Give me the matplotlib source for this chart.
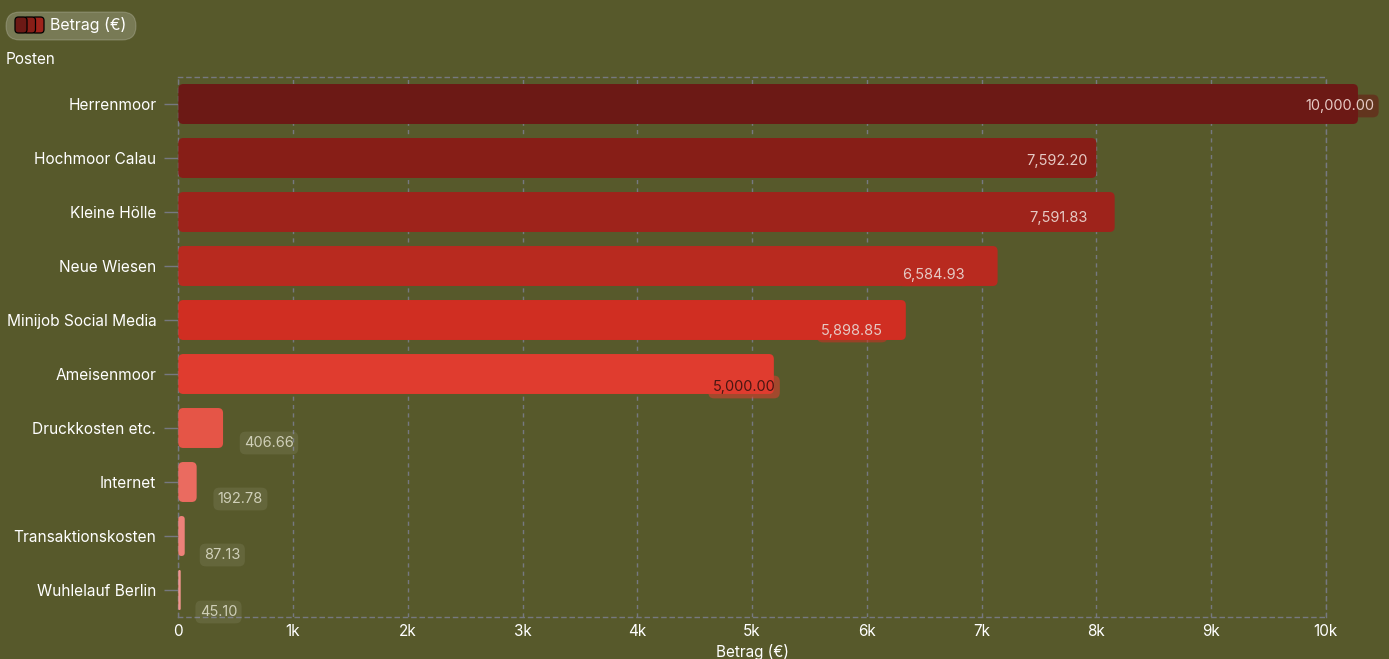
import matplotlib
matplotlib.use("Agg")
import matplotlib.pyplot as plt
from matplotlib.patches import FancyBboxPatch
from matplotlib.ticker import FuncFormatter

# ---- data ----
categories = ["Herrenmoor", "Hochmoor Calau", "Kleine Hölle", "Neue Wiesen",
              "Minijob Social Media", "Ameisenmoor", "Druckkosten etc.",
              "Internet", "Transaktionskosten", "Wuhlelauf Berlin"]
label_values = [10000.00, 7592.20, 7591.83, 6584.93, 5898.85, 5000.00,
                406.66, 192.78, 87.13, 45.10]
bar_values = [10280, 8000, 8160, 7140, 6340, 5190, 390, 160, 56, 21]
x_ticks = [0, 1000, 2000, 3000, 4000, 5000, 6000, 7000, 8000, 9000, 10000]

# ---- styles ----
bg = "#57592B"
grid_col = "#767880"
bar_colors = ["#6C1915", "#871E17", "#9E231B", "#B82A1F", "#D02E22",
              "#E03C2F", "#E55547", "#EA6B60", "#EE8179", "#F0958D"]
label_text_colors = ["#E6C9C4"] * 5 + ["#4A1612"] + ["#CFCFB8"] * 4
label_box_colors = bar_colors[:6] + ["#FFFFFF"] * 4
label_box_alpha = [0.55] * 6 + [0.08] * 4
# label offsets in pixels (dx, dy upward)
label_offsets = [(14, -2), (7, -3), (9, -6), (0, -9), (-3, -11), (-8, -13),
                 (44, -15), (40, -17), (34, -19), (35, -22)]

plt.rcParams['font.family'] = ['Inter', 'DejaVu Sans']

W, H = 1389, 659
fig = plt.figure(figsize=(W / 100, H / 100), dpi=100, facecolor=bg)
L, R, T, B = 178.3, 1325.8, 77, 617
ax = fig.add_axes([L / W, 1 - B / H, (R - L) / W, (B - T) / H])
ax.set_facecolor(bg)

n = len(categories)
ax.set_xlim(0, 10000)
ax.set_ylim(n - 0.5, -0.5)

px_per_x = (R - L) / 10000.0
px_per_y = (B - T) / n
aspect = px_per_x / px_per_y
radius_px = 5.0
h = 0.74
for i in range(n):
    v = bar_values[i]
    rs = min(radius_px / px_per_x, v / 2)
    patch = FancyBboxPatch((0, i - h / 2), v, h,
                           boxstyle=f"round,pad=0,rounding_size={rs}",
                           mutation_aspect=aspect,
                           facecolor=bar_colors[i], edgecolor="none",
                           clip_on=False, zorder=3)
    ax.add_patch(patch)

ax.set_yticks(list(range(n)))
ax.set_yticklabels(categories)
ax.set_xticks(x_ticks)
ax.xaxis.set_major_formatter(FuncFormatter(lambda x, p: "0" if x == 0 else f"{int(x/1000)}k"))

ax.tick_params(axis='y', length=10, width=1, color=grid_col,
               labelsize=11.1, pad=5.8, labelcolor="white")
for tl in ax.yaxis.get_ticklines():
    tl.set_linestyle((0, (3, 2)))
ax.tick_params(axis='x', length=0, labelsize=11, pad=5, labelcolor="white")

ax.grid(axis='x', color=grid_col, linestyle=(0, (3, 3)), linewidth=1, zorder=0)
for s in ax.spines.values():
    s.set_color(grid_col)
    s.set_linestyle((0, (3, 3)))
    s.set_linewidth(1)
    s.set_zorder(1)

ax.set_xlabel("Betrag (€)", color="white", fontsize=11, labelpad=4)

# value labels
for i in range(n):
    dx, dy = label_offsets[i]
    ax.annotate(f"{label_values[i]:,.2f}", xy=(label_values[i], i),
                xytext=(dx, dy), textcoords="offset pixels",
                ha="center", va="center", fontsize=10.5,
                color=label_text_colors[i], zorder=5, annotation_clip=False,
                bbox=dict(boxstyle="round,pad=0.3,rounding_size=0.4",
                          facecolor=label_box_colors[i],
                          alpha=label_box_alpha[i], edgecolor="none"))

# "Posten" axis title
fig.text(6 / W, 1 - 60 / H, "Posten", color="white", fontsize=11,
         ha="left", va="center")

# legend pill
pill = FancyBboxPatch((6 / W, 1 - 40 / H), 130 / W, 28 / H,
                      boxstyle="round,pad=0,rounding_size=0.01",
                      transform=fig.transFigure, facecolor="#FFFFFF",
                      alpha=0.2, edgecolor="#FFFFFF", linewidth=0.8)
pill.set_mutation_aspect(W / H)
fig.patches.append(pill)
icon_cols = ["#9E231B", "#871E17", "#6C1915"]
for k, xoff in enumerate([32, 23.5, 15]):
    ic = FancyBboxPatch((xoff / W, 1 - 33 / H), 12 / W, 16 / H,
                        boxstyle="round,pad=0,rounding_size=0.0025",
                        transform=fig.transFigure, facecolor=icon_cols[k],
                        edgecolor="black", linewidth=0.9)
    ic.set_mutation_aspect(W / H)
    fig.patches.append(ic)
fig.text(50 / W, 1 - 25 / H, "Betrag (€)", color="white", fontsize=11.5,
         ha="left", va="center")

fig.savefig("out.png", dpi=100, facecolor=bg)
